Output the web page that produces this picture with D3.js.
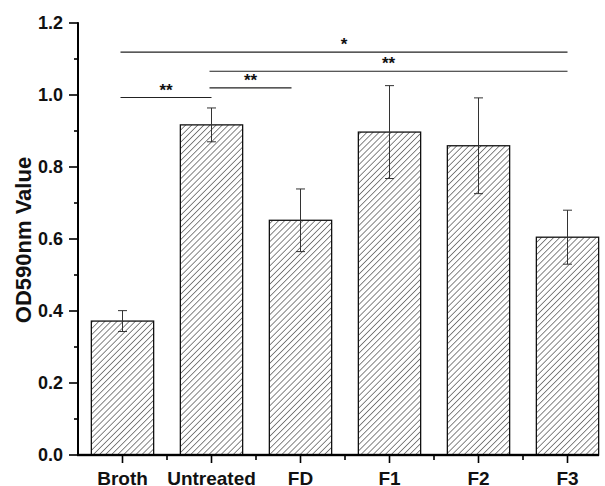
<!DOCTYPE html>
<html>
<head>
<meta charset="utf-8">
<script src="https://cdn.jsdelivr.net/npm/d3@7"></script>
<style>
  body { margin: 0; background: #fff; }
  svg { display: block; font-family: Arial, "Liberation Sans", sans-serif; }
</style>
</head>
<body>
<svg id="chart" width="605" height="486"></svg>
<script>
const categories = ['Broth', 'Untreated', 'FD', 'F1', 'F2', 'F3'];
const values = [0.372, 0.917, 0.652, 0.897, 0.859, 0.605];
const errors = [0.029, 0.047, 0.087, 0.129, 0.133, 0.075];
const yTicks = [0.0, 0.2, 0.4, 0.6, 0.8, 1.0, 1.2];
const yMinorTicks = [0.1, 0.3, 0.5, 0.7, 0.9, 1.1];

// significance brackets: from category, to category, height, label
const sigFrom = ['Broth', 'Untreated', 'Untreated', 'Broth'];
const sigTo = ['Untreated', 'FD', 'F3', 'F3'];
const sigLevel = [0.993, 1.020, 1.066, 1.119];
const sigLabel = ['**', '**', '**', '*'];

const width = 605;
const height = 486;
const margin = { top: 23, left: 78, bottom: 31 };

const svg = d3.select('#chart');

const x = d3.scaleBand()
    .domain(categories)
    .range([margin.left, margin.left + 89 * categories.length])
    .paddingInner(0.3)
    .paddingOuter(0.15);

const y = d3.scaleLinear()
    .domain([0, 1.2])
    .range([height - margin.bottom, margin.top]);

const center = d => x(d) + x.bandwidth() / 2;

// hatch pattern
svg.append('defs')
    .append('pattern')
    .attr('id', 'hatch')
    .attr('patternUnits', 'userSpaceOnUse')
    .attr('width', 4.3)
    .attr('height', 4.3)
    .attr('patternTransform', 'rotate(45)')
    .append('line')
    .attr('x1', 0).attr('y1', 0)
    .attr('x2', 0).attr('y2', 4.3)
    .attr('stroke', '#222')
    .attr('stroke-width', 1.1);

// bars
svg.selectAll('rect.bar')
    .data(categories)
    .enter()
    .append('rect')
    .attr('class', 'bar')
    .attr('x', d => x(d))
    .attr('width', x.bandwidth())
    .attr('y', (d, i) => y(values[i]))
    .attr('height', (d, i) => y(0) - y(values[i]))
    .attr('fill', 'url(#hatch)')
    .attr('stroke', '#111')
    .attr('stroke-width', 1.3);

// error bars
const err = svg.selectAll('g.err')
    .data(categories)
    .enter()
    .append('g')
    .attr('class', 'err')
    .attr('stroke', '#333')
    .attr('stroke-width', 1);

err.append('line')
    .attr('x1', d => center(d)).attr('x2', d => center(d))
    .attr('y1', (d, i) => y(values[i] + errors[i]))
    .attr('y2', (d, i) => y(values[i] - errors[i]));

err.append('line')
    .attr('x1', d => center(d) - 4.5).attr('x2', d => center(d) + 4.5)
    .attr('y1', (d, i) => y(values[i] + errors[i]))
    .attr('y2', (d, i) => y(values[i] + errors[i]));

err.append('line')
    .attr('x1', d => center(d) - 4.5).attr('x2', d => center(d) + 4.5)
    .attr('y1', (d, i) => y(values[i] - errors[i]))
    .attr('y2', (d, i) => y(values[i] - errors[i]));

// axes
const axisColor = '#000';
svg.append('rect')
    .attr('x', margin.left - 1).attr('width', 2)
    .attr('y', y(1.2) - 0.8).attr('height', y(0) - y(1.2) + 1.6)
    .attr('fill', axisColor);

svg.selectAll('rect.ymajor')
    .data(yTicks)
    .enter()
    .append('rect')
    .attr('class', 'ymajor')
    .attr('x', margin.left - 9).attr('width', 9)
    .attr('y', d => y(d) - 0.8).attr('height', 1.6)
    .attr('fill', axisColor);

svg.selectAll('rect.yminor')
    .data(yMinorTicks)
    .enter()
    .append('rect')
    .attr('class', 'yminor')
    .attr('x', margin.left - 4).attr('width', 4)
    .attr('y', d => y(d) - 0.8).attr('height', 1.6)
    .attr('fill', axisColor);

svg.append('rect')
    .attr('x', margin.left - 1).attr('width', 600 - margin.left)
    .attr('y', y(0) - 1.2).attr('height', 2.4)
    .attr('fill', axisColor);

svg.selectAll('rect.xmajor')
    .data(categories)
    .enter()
    .append('rect')
    .attr('class', 'xmajor')
    .attr('x', d => center(d) - 0.8).attr('width', 1.6)
    .attr('y', y(0)).attr('height', 8)
    .attr('fill', axisColor);

svg.selectAll('rect.xminor')
    .data(categories.slice(1))
    .enter()
    .append('rect')
    .attr('class', 'xminor')
    .attr('x', d => x(d) - x.step() * x.paddingInner() / 2 - 0.8).attr('width', 1.6)
    .attr('y', y(0)).attr('height', 5)
    .attr('fill', axisColor);

// tick labels
svg.selectAll('text.ylabel')
    .data(yTicks)
    .enter()
    .append('text')
    .attr('class', 'ylabel')
    .attr('x', margin.left - 15)
    .attr('y', d => y(d))
    .attr('dy', '0.36em')
    .attr('text-anchor', 'end')
    .style('font-size', '18px')
    .style('font-weight', 'bold')
    .attr('fill', '#111')
    .text(d3.format('.1f'));

svg.selectAll('text.xlabel')
    .data(categories)
    .enter()
    .append('text')
    .attr('class', 'xlabel')
    .attr('x', d => center(d))
    .attr('y', y(0) + 30)
    .attr('text-anchor', 'middle')
    .style('font-size', '19px')
    .style('font-weight', 'bold')
    .attr('fill', '#111')
    .text(d => d);

// y axis title
svg.append('text')
    .attr('transform', `translate(31,240) rotate(-90)`)
    .attr('text-anchor', 'middle')
    .style('font-size', '22px')
    .style('font-weight', 'bold')
    .attr('fill', '#111')
    .text('OD590nm Value');

// significance brackets
const inset = [0, 9, 0, 0];
sigLabel.forEach((label, i) => {
    const x1 = center(sigFrom[i]) - 2;
    const x2 = center(sigTo[i]) - inset[i];
    svg.append('line')
        .attr('x1', x1).attr('x2', x2)
        .attr('y1', y(sigLevel[i])).attr('y2', y(sigLevel[i]))
        .attr('stroke', '#222')
        .attr('stroke-width', 1.2);
    svg.append('text')
        .attr('x', (x1 + x2) / 2)
        .attr('y', y(sigLevel[i]) - 2)
        .attr('text-anchor', 'middle')
        .style('font-size', '17px')
        .style('font-weight', 'bold')
        .attr('fill', '#111')
        .text(label);
});
</script>
</body>
</html>
